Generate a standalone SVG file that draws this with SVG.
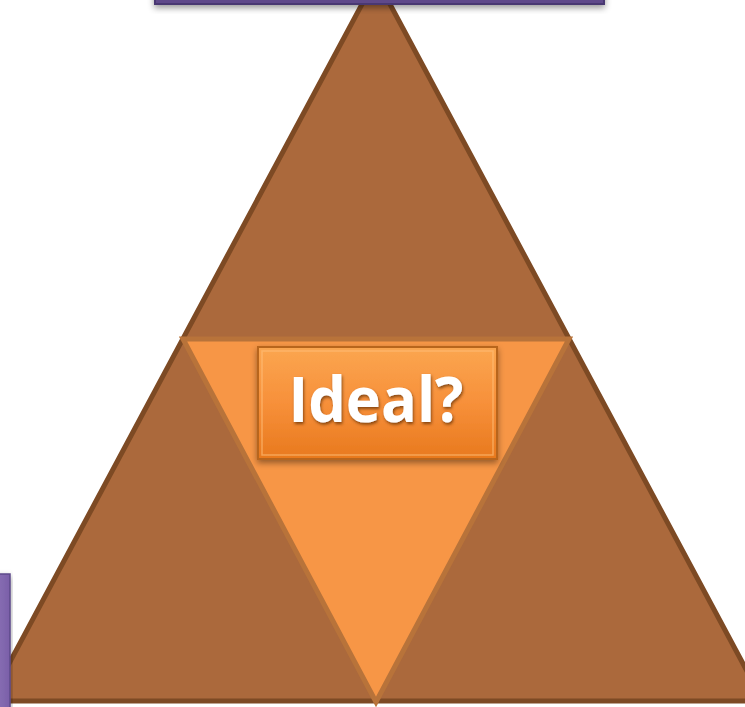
<svg xmlns="http://www.w3.org/2000/svg" width="745" height="707" viewBox="0 0 745 707">
  <defs>
    <linearGradient id="btnGrad" x1="0" y1="0" x2="0" y2="1">
      <stop offset="0" stop-color="#FBA650"/>
      <stop offset="0.5" stop-color="#F7903A"/>
      <stop offset="1" stop-color="#E8791E"/>
    </linearGradient>
    <linearGradient id="sideGrad" x1="0" y1="0" x2="1" y2="0">
      <stop offset="0" stop-color="#9C84C4"/>
      <stop offset="1" stop-color="#7A5FA8"/>
    </linearGradient>
    <filter id="shadow" x="-10%" y="-20%" width="120%" height="160%">
      <feDropShadow dx="0" dy="3" stdDeviation="3" flood-color="#000" flood-opacity="0.4"/>
    </filter>
    <filter id="textShadow" x="-10%" y="-20%" width="120%" height="150%">
      <feDropShadow dx="1" dy="2" stdDeviation="1.5" flood-color="#5a2a00" flood-opacity="0.7"/>
    </filter>
  </defs>
  <style>
    .outer { fill: #AB693C; stroke: #7D4A24; stroke-width: 5; stroke-linejoin: miter; }
    .inner { fill: #F79646; stroke: #B8733A; stroke-width: 5; stroke-linejoin: miter; }
    .label { font-family: "Open Sans", "Liberation Sans", sans-serif; font-weight: bold; fill: #FFFFFF; }
  </style>

  <!-- outer triangle -->
  <g id="triangle-outer">
    <polygon class="outer" points="376,-22 -11,701 763,701"/>
  </g>

  <!-- inner inverted triangle -->
  <g id="triangle-inner">
    <polygon class="inner" points="183,339 569,339 376,702"/>
  </g>

  <!-- top bar -->
  <g id="top-bar" filter="url(#shadow)">
    <rect x="155" y="-20" width="449" height="24" fill="#5E4A8A" stroke="#4A3872" stroke-width="2"/>
  </g>

  <!-- left bar -->
  <g id="left-bar" filter="url(#shadow)">
    <rect x="-20" y="574" width="30" height="150" fill="url(#sideGrad)" stroke="#5E4A8A" stroke-width="1.5"/>
  </g>

  <!-- centre label -->
  <g id="ideal-box">
    <rect x="258" y="347" width="239" height="112" fill="url(#btnGrad)" stroke="#B8651C" stroke-width="2" filter="url(#shadow)"/>
    <rect x="262" y="351" width="231" height="104" fill="none" stroke="#FFC07A" stroke-width="1.5" opacity="0.6"/>
    <text class="label" x="376" y="422" font-size="62" text-anchor="middle" textLength="175" lengthAdjust="spacingAndGlyphs" filter="url(#textShadow)">Ideal?</text>
  </g>

  <g id="connectors"/>
</svg>
